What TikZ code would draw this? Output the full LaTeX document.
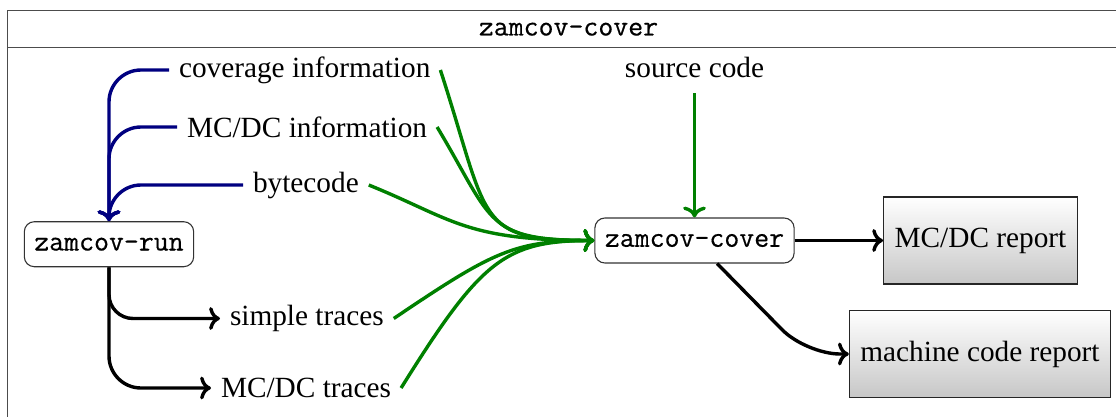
\documentclass[tikz,border=0pt]{standalone}
\usepackage{fontspec}
\usetikzlibrary{arrows.meta}
\setmainfont{Liberation Serif}
\setmonofont{Latin Modern Mono}[FakeBold=0.5]
\begin{document}
\begin{tikzpicture}[x=1pt,y=1pt,
  every node/.style={font=\fontsize{29.3}{35}\selectfont},
  lbl/.style={inner sep=9.8pt},
  ttlbl/.style={font=\fontsize{29}{35}\selectfont\ttfamily},
  prog/.style={draw=black!80, line width=1.1pt, rounded corners=10pt, font=\fontsize{29}{35}\selectfont\ttfamily, minimum height=45pt, inner xsep=10pt},
  report/.style={draw=black!85, line width=1.1pt, top color=white, bottom color=black!22, minimum height=87pt, inner xsep=11pt},
  frameline/.style={draw=black!70, line width=1.4pt},
  conn/.style={-{To[scale=1.2]}, line width=3.4pt},
  blueconn/.style={conn, draw=blue!50!black, rounded corners=32pt},
  greenconn/.style={conn, draw=green!50!black},
  blackconn/.style={conn, draw=black},
]
\useasboundingbox (0,0) rectangle (1116,-416);
% frame
\draw[frameline] (7.3,-10.7) rectangle (1130,-440);
\draw[frameline] (7.3,-47.7) -- (1130,-47.7);
\node[ttlbl] (title) at (568.5,-29.2) {zamcov-cover};

% labels
\node[lbl, anchor=west] (cov) at (169,-70) {coverage information};
\node[lbl, anchor=west] (info) at (177,-127) {MC/DC information};
\node[lbl, anchor=west] (byte) at (243,-185) {bytecode};
\node[lbl, anchor=west] (st) at (220,-318.5) {simple traces};
\node[lbl, anchor=west] (mt) at (211,-388) {MC/DC traces};
\node[lbl, text depth=6pt] (src) at (694.5,-70) {source code};

% programs
\node[prog] (run) at (109,-244.2) {zamcov-run};
\node[prog] (cover) at (694.5,-240.5) {zamcov-cover};

% reports
\node[report] (mcdc) at (980.5,-240.5) {MC/DC report};
\node[report] (mcr) at (980,-354) {machine code report};

% blue inputs of zamcov-run
\draw[blueconn] (cov.west) -| (run.north);
\draw[blueconn] (info.west) -| (run.north);
\draw[blueconn] (byte.west) -| (run.north);

% outputs of zamcov-run
\draw[blackconn, rounded corners=24pt] (run.south) |- (st.west);
\draw[blackconn, rounded corners=32pt] (run.south) |- (mt.west);

% green inputs of zamcov-cover
\draw[greenconn] (cov.east) .. controls +(-72:160) and +(-120,0) .. (cover.west);
\draw[greenconn] (info.east) .. controls +(-59:110) and +(-110,0) .. (cover.west);
\draw[greenconn] (byte.east) .. controls +(-22:90) and +(-130,0) .. (cover.west);
\draw[greenconn] (st.east) .. controls +(34:120) and +(-80,0) .. (cover.west);
\draw[greenconn] (mt.east) .. controls +(58:150) and +(-90,0) .. (cover.west);
\draw[greenconn] (src) -- (cover);

% outputs of zamcov-cover
\draw[blackconn] (cover) -- (mcdc);
\coordinate (bend) at (806,-354);
\draw[blackconn, rounded corners=34pt] (cover) -- (bend) -- (mcr.west);
\end{tikzpicture}
\end{document}
